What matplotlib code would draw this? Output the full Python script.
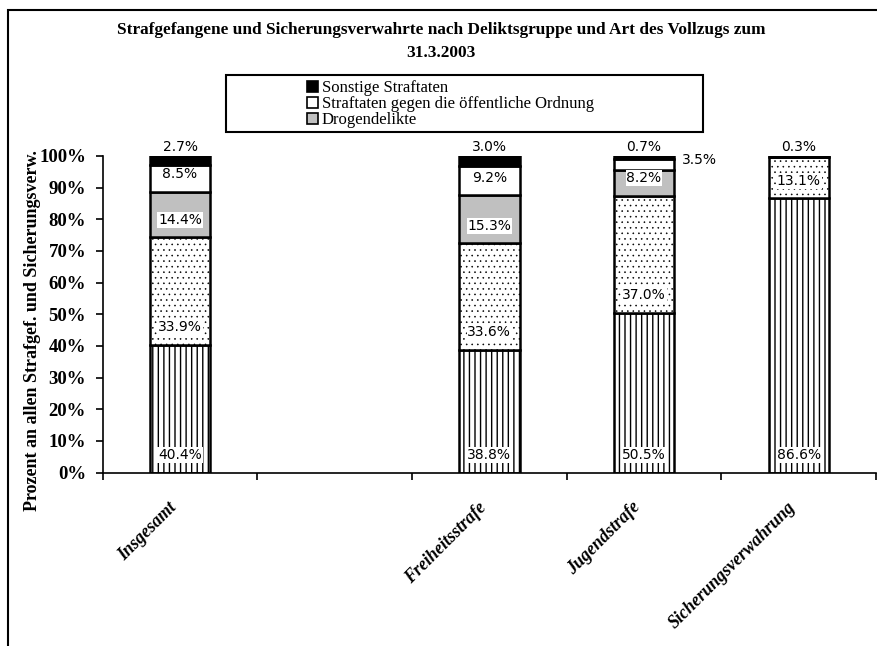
import numpy as np
import matplotlib.pyplot as plt
from matplotlib.patches import Rectangle
from matplotlib.ticker import PercentFormatter

# Kategorien (leere Kategorie als Lücke zwischen Insgesamt und Freiheitsstrafe)
categories = ["Insgesamt", "", "Freiheitsstrafe", "Jugendstrafe", "Sicherungsverwahrung"]

# Anteile in Prozent, von unten nach oben gestapelt
gestreift = [40.4, 0.0, 38.8, 50.5, 86.6]
gepunktet = [33.9, 0.0, 33.6, 37.0, 13.1]
drogen = [14.4, 0.0, 15.3, 8.2, 0.0]
ordnung = [8.5, 0.0, 9.2, 3.5, 0.0]
sonstige = [2.7, 0.0, 3.0, 0.7, 0.3]

legend_names = ["Sonstige Straftaten",
                "Straftaten gegen die öffentliche Ordnung",
                "Drogendelikte"]

serif = "Liberation Serif"
W, H = 877, 646

fig = plt.figure(figsize=(W / 100, H / 100), dpi=100)
fig.patch.set_facecolor('white')

# Rahmen um das ganze Diagramm (rechts/unten abgeschnitten)
fig.patches.append(Rectangle((8 / W, -0.05), 1.1, 1 - 10 / H + 0.05,
                             transform=fig.transFigure, fill=False,
                             ec='black', lw=1.5))

ax = fig.add_axes([102.7 / W, (H - 472.5) / H, (876 - 102.7) / W, 316.5 / H])

x = np.arange(len(categories))
total = np.array(gestreift) + np.array(gepunktet) + np.array(drogen) + np.array(ordnung) + np.array(sonstige)
shown = total > 0
width = 0.39

# (Werte, Stil, Strichstärke der Schraffur)
stacks = [
    (gestreift, dict(facecolor='white', hatch='|||'), 1.0),
    (gepunktet, dict(facecolor='white', hatch='...'), 0.4),
    (drogen, dict(facecolor='#c0c0c0'), 1.0),
    (ordnung, dict(facecolor='white'), 1.0),
    (sonstige, dict(facecolor='black'), 1.0),
]

label_box = dict(facecolor='white', edgecolor='none', pad=0.6)
label_font = dict(family='DejaVu Sans', fontsize=10)

bottom = np.zeros(len(categories))
for k, (vals, style, hlw) in enumerate(stacks):
    vals = np.array(vals)
    plt.rcParams['hatch.linewidth'] = hlw
    ax.bar(x[shown], vals[shown], width, bottom=bottom[shown],
           edgecolor='black', linewidth=1.8, zorder=2, **style)
    for i in x[shown]:
        v = vals[i]
        if v <= 0:
            continue
        txt = f"{v:.1f}%"
        if k == len(stacks) - 1:
            # oberstes Segment: Beschriftung über dem Balken
            ax.text(x[i], 102.8, txt, ha='center', va='center',
                    bbox=label_box, zorder=4, clip_on=False, **label_font)
        elif v < 5:
            ax.text(x[i] + 0.36, bottom[i] + v / 2 + 1.3, txt, ha='center',
                    va='center', zorder=4, **label_font)
        else:
            ax.text(x[i], bottom[i] + 5.5, txt, ha='center', va='center',
                    bbox=label_box, zorder=4, **label_font)
    bottom += vals
plt.rcParams['hatch.linewidth'] = 1.0

ax.set_xlim(-0.5, len(categories) - 0.5)
ax.set_ylim(0, 100)

ax.spines['top'].set_visible(False)
ax.spines['right'].set_visible(False)
ax.spines['left'].set_linewidth(1.2)
ax.spines['bottom'].set_linewidth(1.2)

ax.set_yticks(np.arange(0, 101, 10))
ax.yaxis.set_major_formatter(PercentFormatter(decimals=0))
ax.tick_params(axis='y', direction='out', length=5, width=1.2, pad=7)
for lab in ax.get_yticklabels():
    lab.set_fontfamily(serif)
    lab.set_fontweight('bold')
    lab.set_fontsize(13.5)

# Striche an den Kategoriegrenzen, Beschriftung in der Mitte
ax.set_xticks(np.arange(len(categories) + 1) - 0.5)
ax.set_xticklabels([])
ax.tick_params(axis='x', which='major', direction='out', length=5, width=1.2)
ax.set_xticks(x, categories, minor=True)
ax.tick_params(axis='x', which='minor', length=0, pad=19)
for lab in ax.get_xticklabels(minor=True):
    lab.set_rotation(45)
    lab.set_ha('right')
    lab.set_va('top')
    lab.set_fontfamily(serif)
    lab.set_fontweight('bold')
    lab.set_fontstyle('italic')
    lab.set_fontsize(12.8)

fig.text(33 / W, 1 - 331 / H, "Prozent an allen Strafgef. und Sicherungsverw.",
         rotation=90, ha='center', va='center', family=serif,
         fontweight='bold', fontsize=13)

fig.text(441 / W, 1 - 30 / H,
         "Strafgefangene und Sicherungsverwahrte nach Deliktsgruppe und Art des Vollzugs zum",
         ha='center', va='center', family=serif, fontweight='bold', fontsize=12.4)
fig.text(441 / W, 1 - 53 / H, "31.3.2003",
         ha='center', va='center', family=serif, fontweight='bold', fontsize=12.4)

# Legendenrahmen und Legende
fig.patches.append(Rectangle((226 / W, 1 - 131.7 / H), (703 - 226) / W, 57 / H,
                             transform=fig.transFigure, fill=False,
                             ec='black', lw=1.5))
handles = [Rectangle((0, 0), 1, 1, fc='black', ec='black', lw=1.2),
           Rectangle((0, 0), 1, 1, fc='white', ec='black', lw=1.2),
           Rectangle((0, 0), 1, 1, fc='#c0c0c0', ec='black', lw=1.2)]
fig.legend(handles, legend_names, loc='center left',
           bbox_to_anchor=(307 / W, 1 - 104 / H), frameon=False,
           prop=dict(family=serif, size=12), handlelength=0.65,
           handleheight=0.65, handletextpad=0.25, labelspacing=0.0,
           borderpad=0, borderaxespad=0)

fig.savefig("out.png", dpi=100)
